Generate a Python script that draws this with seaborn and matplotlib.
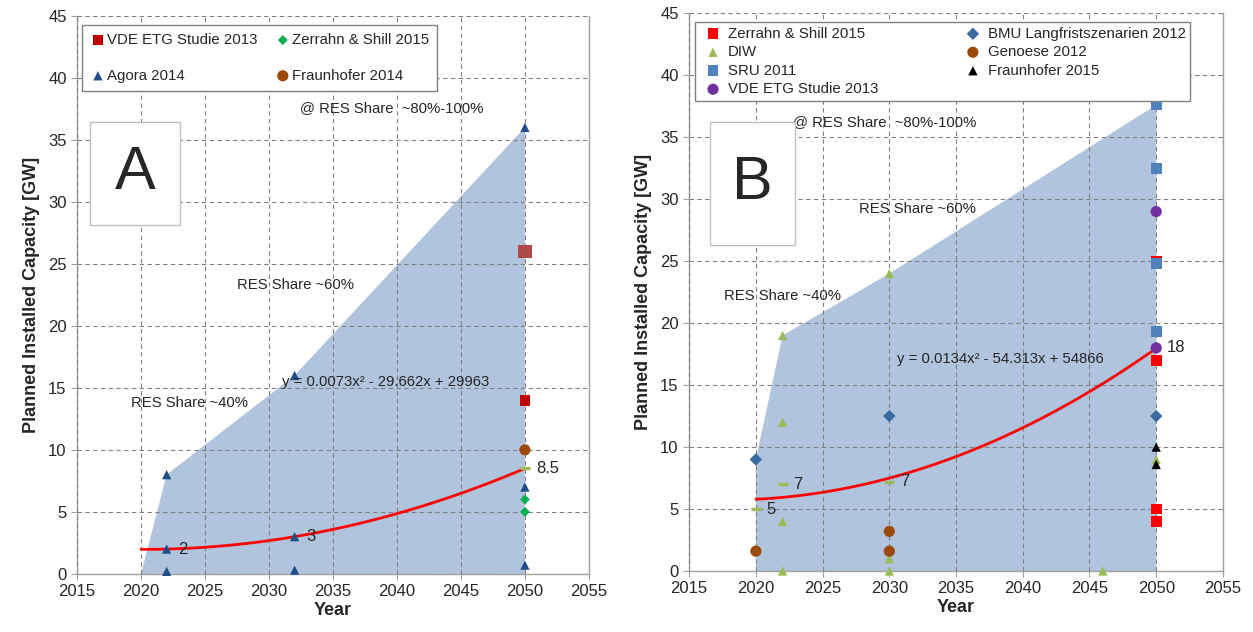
import numpy as np
import pandas as pd
import matplotlib.pyplot as plt
import seaborn as sns
from matplotlib.patches import Rectangle

# ---- panel A data ----
a_agora_x = [2022, 2022, 2022, 2032, 2032, 2032, 2050, 2050, 2050]
a_agora_y = [8, 2, 0.2, 16, 3, 0.3, 36, 7, 0.7]
a_vde_x = [2050, 2050]
a_vde_y = [14, 26]
a_zerrahn_x = [2050, 2050]
a_zerrahn_y = [6, 5]
a_fraun_x = [2050]
a_fraun_y = [10]
a_trend_x = [2022, 2032, 2050]
a_trend_y = [2, 3, 8.5]
a_trend_labels = ["2", "3", "8.5"]
a_area_x = [2020, 2022, 2032, 2050, 2050]
a_area_y = [0, 8, 16, 36, 0]

# ---- panel B data ----
b_zerrahn_x = [2050, 2050, 2050, 2050]
b_zerrahn_y = [25, 17, 5, 4]
b_bmu_x = [2020, 2030, 2050]
b_bmu_y = [9, 12.5, 12.5]
b_diw_x = [2022, 2022, 2022, 2022, 2030, 2030, 2030, 2046, 2050]
b_diw_y = [19, 12, 4, 0, 24, 1, 0, 0, 9]
b_genoese_x = [2020, 2030, 2030]
b_genoese_y = [1.6, 3.2, 1.6]
b_sru_x = [2050, 2050, 2050, 2050]
b_sru_y = [37.6, 32.5, 24.8, 19.3]
b_fraun_x = [2050, 2050]
b_fraun_y = [10, 8.6]
b_vde_x = [2050, 2050]
b_vde_y = [29, 18]
b_trend_x = [2020, 2022, 2030, 2050]
b_trend_y = [5, 7, 7.2, 18]
b_trend_labels = ["5", "7", "7", "18"]
b_area_x = [2020, 2020, 2022, 2030, 2050, 2050]
b_area_y = [0, 9, 19, 24, 37.6, 0]

sns.set_style("whitegrid")
plt.rcParams["font.family"] = ["Liberation Sans", "DejaVu Sans"]

fig = plt.figure(figsize=(12.53, 6.32), dpi=100)
axA = fig.add_axes([0.0615, 0.092, 0.4085, 0.883])
axB = fig.add_axes([0.550, 0.0965, 0.426, 0.8825])

fill_col = "#B0C4DE"
trend_col = "#9BBB59"
leg_fs = 10.8
txt_fs = 10.7


def style_axes(ax):
    ax.set_xlim(2015, 2055)
    ax.set_ylim(0, 45)
    ax.set_xticks(range(2015, 2056, 5))
    ax.set_yticks(range(0, 46, 5))
    ax.grid(True, color="#808080", linestyle=(0, (4, 3)), linewidth=0.8)
    ax.set_axisbelow(False)
    for side in ["left", "bottom", "right"]:
        ax.spines[side].set_visible(True)
        ax.spines[side].set_color("#A0A0A0")
        ax.spines[side].set_linewidth(1.0)
    ax.spines["top"].set_visible(False)
    ax.tick_params(axis="both", labelsize=12, length=4, color="#A0A0A0", left=True, bottom=True)
    ax.set_xlabel("Year", fontsize=13, fontweight="bold", labelpad=2)
    ax.set_ylabel("Planned Installed Capacity [GW]", fontsize=13, fontweight="bold", labelpad=6)


def draw_trend(ax, tx, ty, start):
    coef = np.polyfit(tx, ty, 2)
    xs = np.linspace(start, 2050, 100)
    sns.lineplot(x=xs, y=np.polyval(coef, xs), color="red", linewidth=2, ax=ax, zorder=4)


def letter_box(ax, letter, x0, y0, x1, y1):
    ax.add_patch(Rectangle((x0, y0), x1 - x0, y1 - y0, transform=ax.transAxes, facecolor="white",
                           edgecolor="#C0C0C0", linewidth=1, zorder=6))
    ax.text((x0 + x1) / 2, (y0 + y1) / 2, letter, transform=ax.transAxes, fontsize=44,
            ha="center", va="center", zorder=7)


def pts(ax, x, y, marker, s, color, label=None, z=5):
    sns.scatterplot(x=x, y=y, marker=marker, s=s, color=color, edgecolor="none", label=label,
                    ax=ax, zorder=z, clip_on=False)


# ---- panel A ----
ax = axA
ax.fill(a_area_x, a_area_y, color=fill_col, zorder=1, linewidth=0)
style_axes(ax)
draw_trend(ax, a_trend_x, a_trend_y, 2020)
pts(ax, a_vde_x[:1], a_vde_y[:1], "s", 60, "#C00000", "VDE ETG Studie 2013")
pts(ax, a_vde_x[1:], a_vde_y[1:], "s", 90, "#B04A48")
pts(ax, a_agora_x, a_agora_y, "^", 45, "#1F4E89", "Agora 2014")
pts(ax, a_zerrahn_x, a_zerrahn_y, "D", 25, "#00B050", "Zerrahn & Shill 2015")
pts(ax, a_fraun_x, a_fraun_y, "o", 65, "#9C4A0C", "Fraunhofer 2014")
ax.scatter(a_trend_x[2:], a_trend_y[2:], marker="_", s=60, color=trend_col, linewidths=2.5, zorder=5)
for x, y, t in zip(a_trend_x, a_trend_y, a_trend_labels):
    ax.text(x + 0.9, y, t, fontsize=12, va="center", ha="left", zorder=6)
ax.text(2031.0, 15.5, "y = 0.0073x² - 29.662x + 29963", fontsize=txt_fs, va="center", zorder=6)
ax.text(2032.4, 37.6, "@ RES Share  ~80%-100%", fontsize=txt_fs, va="center", zorder=6)
ax.text(2027.5, 23.3, "RES Share ~60%", fontsize=txt_fs, va="center", zorder=6)
ax.text(2019.2, 13.8, "RES Share ~40%", fontsize=txt_fs, va="center", zorder=6)
letter_box(ax, "A", 0.025, 0.625, 0.201, 0.810)
ax.legend(ncol=2, loc="upper left", bbox_to_anchor=(0.01, 0.984), borderaxespad=0,
          fontsize=leg_fs, frameon=True, fancybox=False, edgecolor="#808080", framealpha=1,
          handletextpad=0.1, columnspacing=1.2, labelspacing=1.45, handlelength=1, borderpad=0.55)

# ---- panel B ----
ax = axB
ax.fill(b_area_x, b_area_y, color=fill_col, zorder=1, linewidth=0)
style_axes(ax)
draw_trend(ax, b_trend_x, b_trend_y, 2020)
pts(ax, b_zerrahn_x, b_zerrahn_y, "s", 60, "#FF0000", "Zerrahn & Shill 2015")
pts(ax, b_diw_x, b_diw_y, "^", 45, trend_col, "DIW")
pts(ax, b_sru_x, b_sru_y, "s", 60, "#4F81BD", "SRU 2011")
pts(ax, b_vde_x, b_vde_y, "o", 65, "#7030A0", "VDE ETG Studie 2013")
pts(ax, b_bmu_x, b_bmu_y, "D", 40, "#3A6AA0", "BMU Langfristszenarien 2012")
pts(ax, b_genoese_x, b_genoese_y, "o", 65, "#9C4A0C", "Genoese 2012")
pts(ax, b_fraun_x, b_fraun_y, "^", 45, "black", "Fraunhofer 2015", z=6)
ax.scatter(b_trend_x[:3], b_trend_y[:3], marker="_", s=60, color=trend_col, linewidths=2.5, zorder=5)
for x, y, t in zip(b_trend_x, b_trend_y, b_trend_labels):
    ax.text(x + 0.8, y, t, fontsize=12, va="center", ha="left", zorder=6)
ax.text(2030.6, 17.1, "y = 0.0134x² - 54.313x + 54866", fontsize=txt_fs, va="center", zorder=6)
ax.text(2022.8, 36.2, "@ RES Share  ~80%-100%", fontsize=txt_fs, va="center", zorder=6)
ax.text(2027.7, 29.2, "RES Share ~60%", fontsize=txt_fs, va="center", zorder=6)
ax.text(2017.6, 22.2, "RES Share ~40%", fontsize=txt_fs, va="center", zorder=6)
letter_box(ax, "B", 0.039, 0.584, 0.199, 0.805)
ax.legend(ncol=2, loc="upper left", bbox_to_anchor=(0.011, 0.984), borderaxespad=0,
          fontsize=leg_fs, frameon=True, fancybox=False, edgecolor="#808080", framealpha=1,
          handletextpad=0.1, columnspacing=5.4, labelspacing=0.3, handlelength=1.8, borderpad=0.3)

fig.savefig("out.png", dpi=100)
